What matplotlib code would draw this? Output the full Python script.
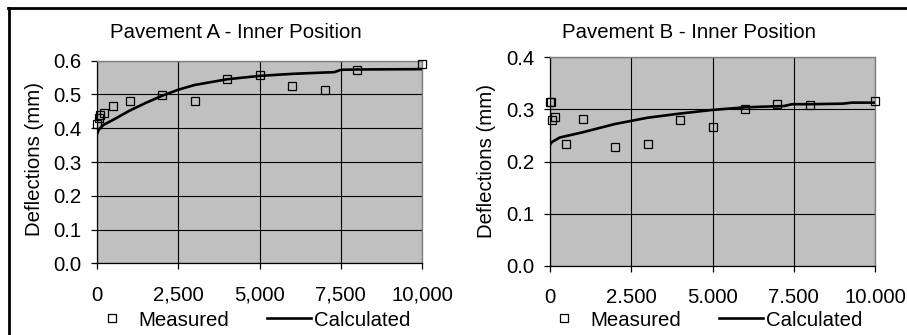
import matplotlib
matplotlib.use("Agg")
import matplotlib.pyplot as plt
from matplotlib.lines import Line2D
from matplotlib.ticker import FixedLocator, FuncFormatter

plt.rcParams['font.family'] = ['Liberation Sans', 'DejaVu Sans']

# ---------------- data ----------------
titles = ["Pavement A - Inner Position", "Pavement B - Inner Position"]
y_label = "Deflections (mm)"
legend_labels = ["Measured", "Calculated"]

x_ticks = [0, 2500, 5000, 7500, 10000]
x_tick_labels_A = ["0", "2,500", "5,000", "7,500", "10,000"]
x_tick_labels_B = ["0", "2.500", "5.000", "7.500", "10.000"]
y_ticks_A = [0.0, 0.1, 0.2, 0.3, 0.4, 0.5, 0.6]
y_ticks_B = [0.0, 0.1, 0.2, 0.3, 0.4]

meas_x_A = [0, 50, 100, 200, 500, 1000, 2000, 3000, 4000, 5000, 6000, 7000, 8000, 10000]
meas_y_A = [0.414, 0.429, 0.439, 0.446, 0.466, 0.480, 0.497, 0.480, 0.545, 0.558, 0.525, 0.512, 0.572, 0.590]
calc_x_A = [0, 50, 100, 200, 500, 1000, 1500, 2000, 2500, 3000, 4000, 5000, 6000, 7000, 7300, 7500, 8000, 10000]
calc_y_A = [0.383, 0.395, 0.400, 0.410, 0.425, 0.452, 0.475, 0.496, 0.514, 0.528, 0.545, 0.555, 0.561, 0.565, 0.566, 0.573, 0.574, 0.575]

meas_x_B = [0, 30, 60, 140, 500, 1000, 2000, 3000, 4000, 5000, 6000, 7000, 8000, 10000]
meas_y_B = [0.315, 0.315, 0.280, 0.285, 0.233, 0.282, 0.228, 0.234, 0.279, 0.266, 0.300, 0.310, 0.309, 0.316]
calc_x_B = [0, 50, 300, 1000, 2000, 3000, 4000, 5000, 6000, 7200, 7450, 8000, 9000, 9300, 10000]
calc_y_B = [0.232, 0.237, 0.246, 0.256, 0.272, 0.284, 0.292, 0.299, 0.304, 0.3065, 0.310, 0.310, 0.311, 0.313, 0.313]

# ---------------- figure ----------------
W, H = 907, 335
fig = plt.figure(figsize=(W / 100, H / 100), dpi=100)
FS = 14.7

def px_rect(l, r, t, b):
    return [l / W, 1 - b / H, (r - l) / W, (b - t) / H]

panels = [
    dict(rect=px_rect(97, 422, 60.7, 263.3), mx=meas_x_A, my=meas_y_A, cx=calc_x_A, cy=calc_y_A,
         yt=y_ticks_A, xl=x_tick_labels_A, title=titles[0], tx=236, ty=32, lx=35, ly=159, legx=90),
    dict(rect=px_rect(550, 875, 57.3, 265.7), mx=meas_x_B, my=meas_y_B, cx=calc_x_B, cy=calc_y_B,
         yt=y_ticks_B, xl=x_tick_labels_B, title=titles[1], tx=689, ty=32, lx=487, ly=161, legx=542),
]

for p in panels:
    ax = fig.add_axes(p['rect'])
    ax.set_facecolor('#C0C0C0')
    ax.plot(p['mx'], p['my'], linestyle='none', marker='s', markersize=5.6,
            markerfacecolor='none', markeredgecolor='black', markeredgewidth=0.9,
            label=legend_labels[0], zorder=4, clip_on=False)
    ax.plot(p['cx'], p['cy'], color='black', linewidth=1.9, label=legend_labels[1], zorder=3)
    ax.set_xlim(x_ticks[0], x_ticks[-1])
    ax.set_ylim(p['yt'][0], p['yt'][-1])
    ax.xaxis.set_major_locator(FixedLocator(x_ticks))
    ax.set_xticklabels(p['xl'])
    ax.yaxis.set_major_locator(FixedLocator(p['yt']))
    ax.yaxis.set_major_formatter(FuncFormatter(lambda v, pos: f"{v:.1f}"))
    ax.grid(True, color='black', linewidth=0.8)
    ax.set_axisbelow(True)
    for s in ['top', 'right']:
        ax.spines[s].set_color('#808080')
        ax.spines[s].set_linewidth(1.0)
    for s in ['left', 'bottom']:
        ax.spines[s].set_color('black')
        ax.spines[s].set_linewidth(0.9)
    ax.tick_params(axis='x', direction='out', length=4, width=0.9, pad=12, labelsize=FS)
    ax.tick_params(axis='y', direction='out', length=4, width=0.9, pad=7, labelsize=FS)
    fig.text(p['tx'] / W, 1 - p['ty'] / H, p['title'], ha='center', va='center', fontsize=FS)
    fig.text(p['lx'] / W, 1 - p['ly'] / H, y_label, ha='center', va='center', rotation=90, fontsize=FS)
    ax.legend(loc='center left', bbox_to_anchor=(p['legx'] / W, 1 - 320 / H),
              bbox_transform=fig.transFigure, ncol=2, frameon=False, fontsize=FS,
              handlelength=2.2, handletextpad=0.15, columnspacing=1.85,
              borderpad=0, borderaxespad=0)

# chart-area border (top + left)
fig.add_artist(Line2D([8.5 / W, 8.5 / W], [0, 1 - 7.5 / H], transform=fig.transFigure,
                      color='black', linewidth=2.0))
fig.add_artist(Line2D([7.5 / W, 1], [1 - 7.5 / H, 1 - 7.5 / H], transform=fig.transFigure,
                      color='black', linewidth=2.0))

fig.savefig("out.png", dpi=100)
